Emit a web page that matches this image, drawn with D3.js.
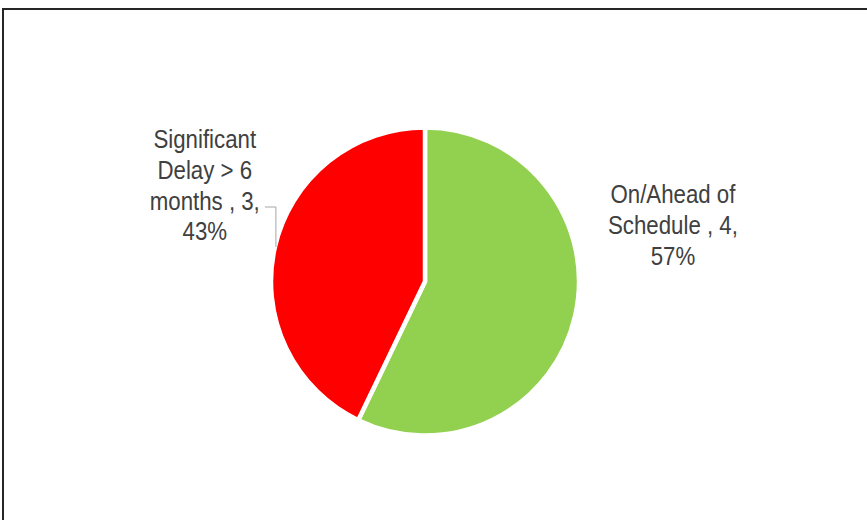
<!DOCTYPE html>
<head>
<meta charset="utf-8">
<style>
  body { margin:0; background:#fff; }
  svg { display:block; }
  .lbl { font-family: "Liberation Sans", Arial, sans-serif; font-size:25px; fill:#404040; }
</style>
<script src="https://d3js.org/d3.v7.min.js"></script>
</head>
<body>
<script>

var width = 867;
var height = 520;

// chart data
var categories = ["On/Ahead of Schedule", "Significant Delay > 6 months"];
var counts = [4, 3];
var colors = ["#92D050", "#FF0000"];
// label lines as they wrap in the picture
var labelLines = [
    ["On/Ahead of", "Schedule , 4,", "57%"],
    ["Significant", "Delay > 6", "months , 3,", "43%"]
];

var cx = 425, cy = 281.5, r = 154;

var svg = d3.select("body").append("svg")
    .attr("width", width)
    .attr("height", height);

// chart area frame (runs off the right and bottom edge)
svg.append("rect")
    .attr("x", 3).attr("y", 9)
    .attr("width", width + 20).attr("height", height + 20)
    .attr("fill", "none")
    .attr("stroke", "#262626")
    .attr("stroke-width", 2);

var data = categories.map(function(c, i) {
    return {name: c, value: counts[i], color: colors[i], lines: labelLines[i]};
});
var total = d3.sum(counts);

var pie = d3.pie()
    .sort(null)
    .value(function(d) { return d.value; });

var arc = d3.arc()
    .innerRadius(0)
    .outerRadius(r);

var arcs = pie(data);

var g = svg.append("g")
    .attr("transform", "translate(" + cx + "," + cy + ")");

g.selectAll("path")
    .data(arcs)
  .enter().append("path")
    .attr("d", arc)
    .attr("fill", function(d) { return d.data.color; })
    .attr("stroke", "#fff")
    .attr("stroke-width", 4.5)
    .attr("stroke-linejoin", "round");

// labels: right one beside the green slice, left one up-left of the red slice
var lineH = 30.8;
var labelPos = [
    {x: cx + r * 1.61, y: cy - 78.5},
    {x: cx - r * 1.43, y: cy - 133.5}
];

arcs.forEach(function(a, i) {
    var p = labelPos[i];
    var t = svg.append("text")
        .attr("class", "lbl")
        .attr("text-anchor", "middle")
        .attr("transform", "translate(" + p.x + "," + p.y + ") scale(0.89,1)");
    a.data.lines.forEach(function(s, j) {
        t.append("tspan")
            .attr("x", 0)
            .attr("y", j * lineH)
            .text(s);
    });
});

// leader line for the left label
var red = arcs[1];
var ly = cy - 34.5;
var lx = cx - Math.sqrt(r * r - (cy - ly) * (cy - ly)) + 1;
svg.append("path")
    .attr("d", "M" + (lx - 11) + "," + (cy - 74.5) + "H" + lx + "V" + ly)
    .attr("fill", "none")
    .attr("stroke", "#A6A6A6")
    .attr("stroke-width", 1);

</script>
</body>
